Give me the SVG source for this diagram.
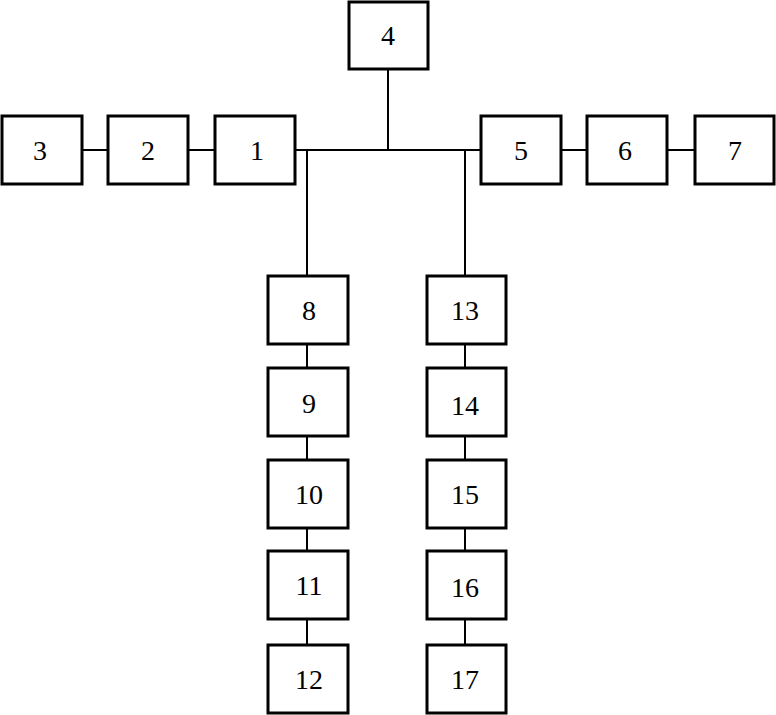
<svg xmlns="http://www.w3.org/2000/svg" width="776" height="715" viewBox="0 0 776 715">
<style>
.b{fill:#fff;stroke:#000;stroke-width:3}
text{font-family:"Liberation Serif",serif;font-size:28px;text-anchor:middle;dominant-baseline:central}
#c line{stroke:#000;stroke-width:2}
</style>
<rect width="776" height="715" fill="#fff"/>
<g id="c">
<line x1="388" y1="69" x2="388" y2="150"/>
<line x1="295" y1="150" x2="481" y2="150"/>
<line x1="82" y1="150" x2="108" y2="150"/>
<line x1="188" y1="150" x2="215" y2="150"/>
<line x1="561" y1="150" x2="587" y2="150"/>
<line x1="667" y1="150" x2="695" y2="150"/>
<line x1="307" y1="150" x2="307" y2="276"/>
<line x1="465" y1="150" x2="465" y2="276"/>
<line x1="307" y1="344" x2="307" y2="368"/>
<line x1="307" y1="436" x2="307" y2="460"/>
<line x1="307" y1="528" x2="307" y2="551"/>
<line x1="307" y1="619" x2="307" y2="645"/>
<line x1="465" y1="344" x2="465" y2="368"/>
<line x1="465" y1="436" x2="465" y2="460"/>
<line x1="465" y1="528" x2="465" y2="551"/>
<line x1="465" y1="619" x2="465" y2="645"/>
</g>
<g id="n4"><rect class="b" x="349" y="2" width="79" height="67"/><text x="388" y="35">4</text></g>
<g id="n3"><rect class="b" x="2" y="116" width="80" height="68"/><text x="40" y="150">3</text></g>
<g id="n2"><rect class="b" x="108" y="116" width="80" height="68"/><text x="148" y="150">2</text></g>
<g id="n1"><rect class="b" x="215" y="116" width="80" height="68"/><text x="257" y="150">1</text></g>
<g id="n5"><rect class="b" x="481" y="116" width="80" height="68"/><text x="521" y="150">5</text></g>
<g id="n6"><rect class="b" x="587" y="116" width="80" height="68"/><text x="625" y="150">6</text></g>
<g id="n7"><rect class="b" x="695" y="116" width="79" height="68"/><text x="735" y="150">7</text></g>
<g id="n8"><rect class="b" x="268" y="276" width="80" height="68"/><text x="309" y="310">8</text></g>
<g id="n9"><rect class="b" x="268" y="368" width="80" height="68"/><text x="309" y="403">9</text></g>
<g id="n10"><rect class="b" x="268" y="460" width="80" height="68"/><text x="309" y="494">10</text></g>
<g id="n11"><rect class="b" x="268" y="551" width="80" height="68"/><text x="309" y="585">11</text></g>
<g id="n12"><rect class="b" x="268" y="645" width="80" height="68"/><text x="309" y="679">12</text></g>
<g id="n13"><rect class="b" x="427" y="276" width="79" height="68"/><text x="465" y="310">13</text></g>
<g id="n14"><rect class="b" x="427" y="368" width="79" height="68"/><text x="465" y="405">14</text></g>
<g id="n15"><rect class="b" x="427" y="460" width="79" height="68"/><text x="465" y="494">15</text></g>
<g id="n16"><rect class="b" x="427" y="551" width="79" height="68"/><text x="465" y="587">16</text></g>
<g id="n17"><rect class="b" x="427" y="645" width="79" height="68"/><text x="465" y="679">17</text></g>
</svg>
